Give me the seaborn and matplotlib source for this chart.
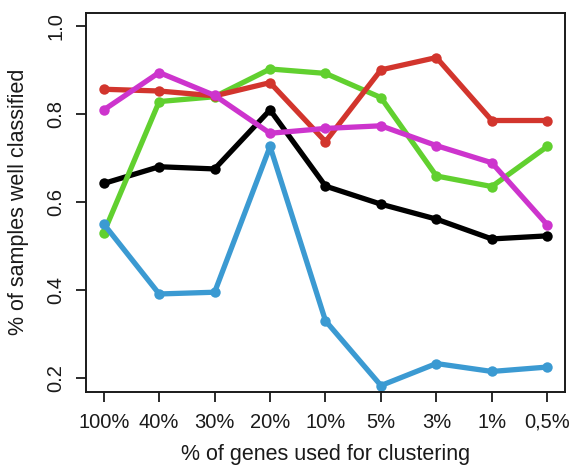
import matplotlib
matplotlib.use("Agg")
import matplotlib.pyplot as plt
import pandas as pd
import seaborn as sns

# values
categories = ["100%", "40%", "30%", "20%", "10%", "5%", "3%", "1%", "0,5%"]
black = [0.642, 0.680, 0.675, 0.809, 0.636, 0.595, 0.561, 0.516, 0.523]
green = [0.530, 0.828, 0.839, 0.902, 0.892, 0.837, 0.659, 0.635, 0.726]
red = [0.856, 0.852, 0.841, 0.871, 0.737, 0.900, 0.928, 0.785, 0.785]
magenta = [0.809, 0.894, 0.842, 0.756, 0.767, 0.773, 0.728, 0.689, 0.548]
blue = [0.550, 0.391, 0.395, 0.726, 0.330, 0.183, 0.233, 0.215, 0.225]

series = {"black": black, "green": green, "red": red, "magenta": magenta, "blue": blue}
palette = {"black": "#000000", "green": "#61D02F", "red": "#D2352D",
           "magenta": "#CD34CD", "blue": "#3B9AD2"}

rows = []
for name, vals in series.items():
    for i, v in enumerate(vals):
        rows.append({"series": name, "pos": i, "value": v})
df = pd.DataFrame(rows)

sns.set_style("white")
plt.rcParams["font.family"] = ["Liberation Sans", "DejaVu Sans"]

fig = plt.figure(figsize=(5.71, 4.68), dpi=100)
ax = fig.add_axes([0.1506, 0.163, 0.8389, 0.810])

sns.lineplot(data=df, x="pos", y="value", hue="series", palette=palette,
             hue_order=list(series.keys()), marker="o", markersize=7.5,
             markeredgewidth=0, linewidth=3.8, legend=False, ax=ax)

ax.set_xlim(-0.32, 8.32)
ax.set_ylim(0.169, 1.030)
ax.set_xticks(range(len(categories)))
ax.set_xticklabels(categories)
ax.set_yticks([0.2, 0.4, 0.6, 0.8, 1.0])
ax.set_yticklabels(["0.2", "0.4", "0.6", "0.8", "1.0"], rotation=90, va="center")
ax.tick_params(axis="both", direction="out", length=7, width=1.3, labelsize=14.5,
               colors="#1a1a1a", pad=8, left=True, bottom=True)
for s in ax.spines.values():
    s.set_linewidth(1.4)
    s.set_color("#1a1a1a")

ax.set_xlabel("% of genes used for clustering", fontsize=15.5, labelpad=9,
              color="#1a1a1a")
ax.set_ylabel("% of samples well classified", fontsize=15.5, labelpad=12,
              color="#1a1a1a")

fig.savefig("out.png", dpi=100)
